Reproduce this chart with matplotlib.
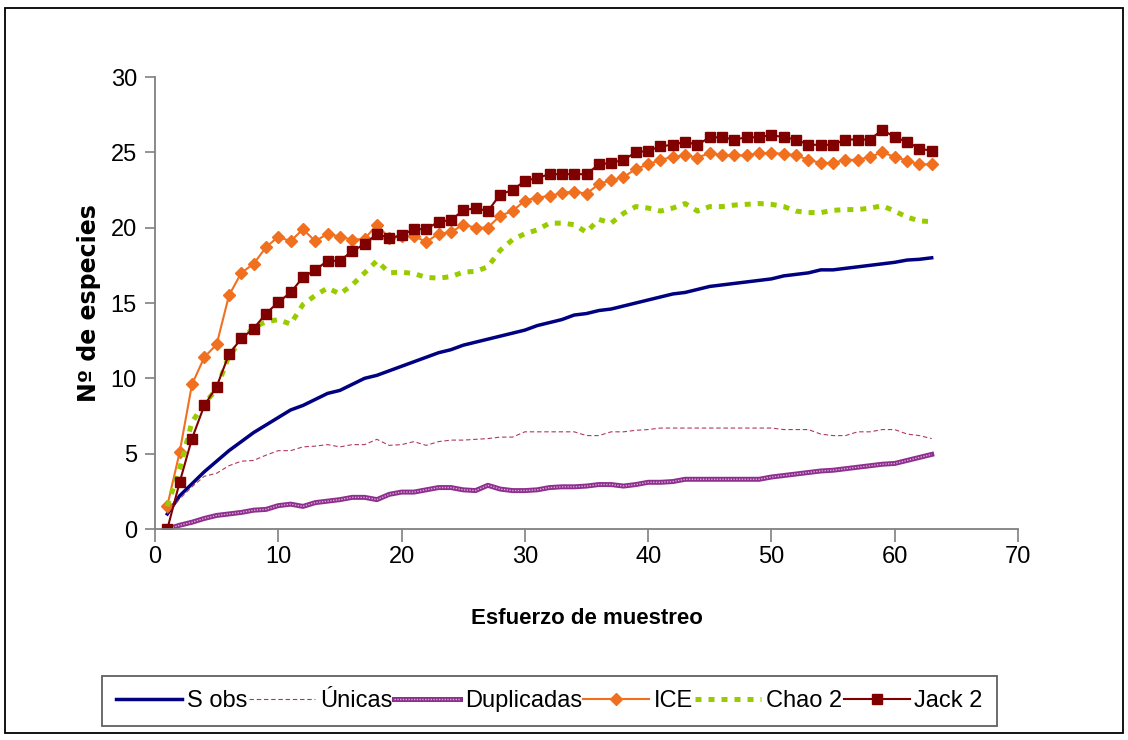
import matplotlib
matplotlib.use('Agg')
import matplotlib.pyplot as plt
from matplotlib.patches import Rectangle
from matplotlib.legend_handler import HandlerTuple
import numpy as np

plt.rcParams['font.family'] = ['Liberation Sans Narrow', 'Liberation Sans', 'DejaVu Sans']

# esfuerzo de muestreo (1..63)
esfuerzo = list(range(1, 64))

s_obs = [1.0, 2.2, 3.0, 3.8, 4.5, 5.2, 5.8, 6.4, 6.9, 7.4,
         7.9, 8.2, 8.6, 9.0, 9.2, 9.6, 10.0, 10.2, 10.5, 10.8,
         11.1, 11.4, 11.7, 11.9, 12.2, 12.4, 12.6, 12.8, 13.0, 13.2,
         13.5, 13.7, 13.9, 14.2, 14.3, 14.5, 14.6, 14.8, 15.0, 15.2,
         15.4, 15.6, 15.7, 15.9, 16.1, 16.2, 16.3, 16.4, 16.5, 16.6,
         16.8, 16.9, 17.0, 17.2, 17.2, 17.3, 17.4, 17.5, 17.6, 17.7,
         17.85, 17.9, 18.0]

unicas = [1.0, 2.0, 2.8, 3.5, 3.7, 4.2, 4.5, 4.55, 4.9, 5.2,
          5.2, 5.45, 5.5, 5.6, 5.45, 5.6, 5.6, 5.95, 5.55, 5.6,
          5.8, 5.55, 5.8, 5.9, 5.9, 5.95, 6.0, 6.1, 6.1, 6.45,
          6.45, 6.45, 6.45, 6.45, 6.2, 6.2, 6.45, 6.45, 6.55, 6.6,
          6.7, 6.7, 6.7, 6.7, 6.7, 6.7, 6.7, 6.7, 6.7, 6.7,
          6.6, 6.6, 6.6, 6.3, 6.2, 6.2, 6.45, 6.45, 6.6, 6.6,
          6.3, 6.2, 6.0]

duplicadas = [0.0, 0.25, 0.45, 0.7, 0.9, 1.0, 1.1, 1.25, 1.3, 1.55,
              1.65, 1.5, 1.75, 1.85, 1.95, 2.1, 2.1, 1.95, 2.3, 2.45,
              2.45, 2.6, 2.75, 2.75, 2.6, 2.55, 2.9, 2.65, 2.55, 2.55,
              2.6, 2.75, 2.8, 2.8, 2.85, 2.95, 2.95, 2.85, 2.95, 3.1,
              3.1, 3.15, 3.3, 3.3, 3.3, 3.3, 3.3, 3.3, 3.3, 3.45,
              3.55, 3.65, 3.75, 3.85, 3.9, 4.0, 4.1, 4.2, 4.3, 4.35,
              4.55, 4.75, 4.95]

ice = [1.55, 5.1, 9.6, 11.4, 12.25, 15.5, 17.0, 17.6, 18.7, 19.4,
       19.1, 19.9, 19.1, 19.6, 19.4, 19.2, 19.25, 20.2, 19.3, 19.45,
       19.45, 19.05, 19.6, 19.7, 20.2, 20.0, 20.0, 20.8, 21.1, 21.8,
       22.0, 22.1, 22.3, 22.4, 22.25, 22.9, 23.15, 23.35, 23.9, 24.2,
       24.5, 24.7, 24.8, 24.65, 24.95, 24.8, 24.8, 24.8, 24.95, 24.95,
       24.9, 24.8, 24.5, 24.3, 24.3, 24.5, 24.5, 24.7, 25.0, 24.7,
       24.45, 24.2, 24.2]

chao2 = [1.5, 4.0, 7.1, 8.3, 9.3, 11.5, 12.5, 13.4, 13.75, 13.9,
         13.6, 14.9, 15.5, 16.0, 15.6, 16.2, 17.0, 17.8, 17.0, 17.05,
         16.95, 16.7, 16.65, 16.75, 17.05, 17.1, 17.4, 18.5, 19.2, 19.6,
         19.85, 20.3, 20.3, 20.2, 19.7, 20.55, 20.3, 20.95, 21.4, 21.3,
         21.1, 21.3, 21.6, 21.1, 21.4, 21.4, 21.5, 21.55, 21.6, 21.55,
         21.4, 21.1, 21.0, 21.0, 21.15, 21.2, 21.2, 21.3, 21.45, 21.1,
         20.7, 20.45, 20.4]

jack2 = [0.0, 3.1, 6.0, 8.2, 9.45, 11.6, 12.65, 13.3, 14.3, 15.05,
         15.7, 16.7, 17.2, 17.8, 17.8, 18.45, 18.9, 19.6, 19.3, 19.5,
         19.9, 19.9, 20.4, 20.5, 21.15, 21.3, 21.1, 22.2, 22.5, 23.1,
         23.3, 23.55, 23.55, 23.55, 23.55, 24.2, 24.3, 24.5, 25.0, 25.1,
         25.4, 25.5, 25.7, 25.5, 26.0, 26.0, 25.85, 26.0, 26.0, 26.15,
         26.0, 25.85, 25.5, 25.5, 25.5, 25.85, 25.85, 25.85, 26.5, 26.0,
         25.7, 25.25, 25.1]

fig = plt.figure(figsize=(11.28, 7.40), dpi=100)
ax = fig.add_axes([155/1128, 1-529/740, 863/1128, 452/740])

h1, = ax.plot(esfuerzo, s_obs, color='#000080', lw=2.5)
h2, = ax.plot(esfuerzo, unicas, color='#b03a5a', lw=0.8, linestyle=(0, (4, 2.5)))
h3a, = ax.plot(esfuerzo, duplicadas, color='#8e2f8e', lw=3.6)
h3b, = ax.plot(esfuerzo, duplicadas, color='#d8a8d8', lw=1.0, linestyle=(0, (1, 1)))
h4, = ax.plot(esfuerzo, ice, color='#f07020', lw=1.5, marker='D',
              markersize=6.5, markeredgecolor='#f07020', markerfacecolor='#f07020')
h5, = ax.plot(esfuerzo, chao2, color='#99cc00', lw=3.6, linestyle=(0, (1.2, 1.4)))
h6, = ax.plot(esfuerzo, jack2, color='#800000', lw=1.5, marker='s',
              markersize=7, markeredgecolor='#800000', markerfacecolor='#800000')

ax.set_xlim(0, 70)
ax.set_ylim(0, 30)
ax.set_xticks(range(0, 71, 10))
ax.set_yticks(range(0, 31, 5))

for s in ['top', 'right']:
    ax.spines[s].set_visible(False)
for s in ['left', 'bottom']:
    ax.spines[s].set_color('#808080')
    ax.spines[s].set_linewidth(1.3)

ax.tick_params(axis='y', direction='out', length=7, width=1.2, color='#808080',
               labelsize=17, pad=6)
ax.tick_params(axis='x', direction='out', length=9, width=1.2, color='#808080',
               labelsize=17, pad=3)

ax.set_xlabel('Esfuerzo de muestreo', fontsize=16, fontweight='bold')
ax.xaxis.set_label_coords(0.5, -0.175)
ax.set_ylabel('Nº de especies', fontsize=17, fontweight='bold',
              family=['DejaVu Sans'])
ax.yaxis.set_label_coords(-0.062, 0.5)

leg = fig.legend([h1, h2, (h3a, h3b), h4, h5, h6],
                 ['S obs', 'Únicas', 'Duplicadas', 'ICE', 'Chao 2', 'Jack 2'],
                 handler_map={tuple: HandlerTuple(ndivide=1)},
                 loc='center', ncol=6, mode='expand',
                 bbox_to_anchor=(102/1128, 1-726/740, 895/1128, 50/740),
                 fontsize=17, frameon=True, fancybox=False, framealpha=1,
                 edgecolor='#606060', handlelength=2.8, handletextpad=0.2,
                 columnspacing=0.8, borderaxespad=0, borderpad=0.6)
leg.get_frame().set_linewidth(1.3)

fig.patches.append(Rectangle((5/1128, 7/740), 1118/1128, 725/740,
                             transform=fig.transFigure, fill=False,
                             edgecolor='black', linewidth=1.3))

fig.savefig('out.png', dpi=100)
